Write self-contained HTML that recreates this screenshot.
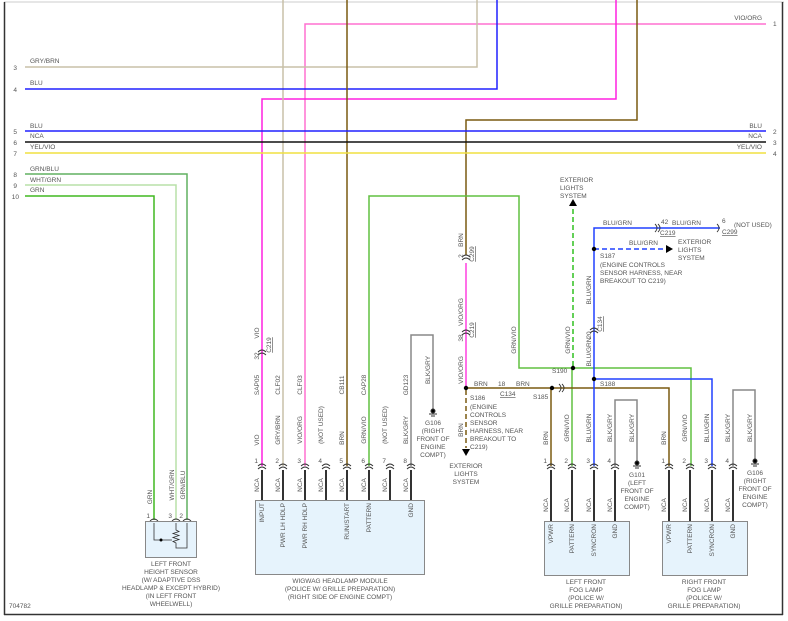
<!DOCTYPE html>
<html><head><meta charset="utf-8"><style>
html,body{margin:0;padding:0;background:#fff;}
svg{display:block;font-family:"Liberation Sans",sans-serif;}
text{font-size:6.5px;fill:#555;}
.c{text-anchor:middle;}
.e{text-anchor:end;}
</style></head><body>
<svg width="788" height="621" viewBox="0 0 788 621" xmlns="http://www.w3.org/2000/svg">
<line x1="4" y1="2" x2="784" y2="2" stroke="#ccc" stroke-width="1"/>
<line x1="4.5" y1="2" x2="4.5" y2="615" stroke="#333" stroke-width="1.5"/>
<line x1="4" y1="614.5" x2="783" y2="614.5" stroke="#333" stroke-width="1.5"/>
<line x1="782.5" y1="2" x2="782.5" y2="615" stroke="#333" stroke-width="1.5"/>

<g fill="none" stroke-width="1.5">
<polyline points="305,466 305,24 766,24" stroke="#ff70d0"/>
<polyline points="262,466 262,99 616,99 616,0" stroke="#ff20e0"/>
<polyline points="25,67 477,67 477,0" stroke="#c8c0a8"/>
<line x1="283" y1="0" x2="283" y2="466" stroke="#c8c0a8"/>
<polyline points="25,89 497,89 497,0" stroke="#2020ff"/>
<line x1="347" y1="0" x2="347" y2="466" stroke="#7a5a10"/>
<polyline points="466,255 466,120 637,120 637,0" stroke="#7a5a10"/>
<line x1="466" y1="263" x2="466" y2="388" stroke="#ff40e0"/>
<line x1="25" y1="131" x2="766" y2="131" stroke="#2020ff"/>
<line x1="25" y1="142" x2="766" y2="142" stroke="#111"/>
<line x1="25" y1="153" x2="766" y2="153" stroke="#f0e040"/>
<polyline points="25,174 187,174 187,520" stroke="#60b060"/>
<polyline points="25,185 176,185 176,520" stroke="#b8e0a8"/>
<polyline points="25,196 154,196 154,520" stroke="#40b820"/>
<polyline points="369,466 369,196 519,196 519,368 691,368 691,466" stroke="#60c040"/>
<line x1="572" y1="368" x2="572" y2="466" stroke="#60c040"/>
<line x1="573" y1="366" x2="573" y2="205" stroke="#30c020" stroke-dasharray="5,3"/>
<polyline points="466,388 669,388 669,466" stroke="#7a5a10"/>
<line x1="551" y1="388" x2="551" y2="466" stroke="#7a5a10"/>
<line x1="466" y1="390" x2="466" y2="448" stroke="#7a5a10" stroke-dasharray="5,3"/>
<polyline points="594,466 594,228 720,228" stroke="#2040ff"/>
<polyline points="594,379 712,379 712,466" stroke="#2040ff"/>
<line x1="594" y1="249" x2="666" y2="249" stroke="#2040ff" stroke-dasharray="5,3"/>
<polyline points="411,466 411,335 433,335 433,410" stroke="#888"/>
<polyline points="615,466 615,400 637,400 637,462" stroke="#888"/>
<polyline points="733,466 733,390 755,390 755,460" stroke="#888"/>
<g stroke="#333" stroke-width="2">
<line x1="262" y1="470" x2="262" y2="500"/><line x1="283" y1="470" x2="283" y2="500"/>
<line x1="305" y1="470" x2="305" y2="500"/><line x1="326" y1="470" x2="326" y2="500"/>
<line x1="347" y1="470" x2="347" y2="500"/><line x1="369" y1="470" x2="369" y2="500"/>
<line x1="390" y1="470" x2="390" y2="500"/><line x1="411" y1="470" x2="411" y2="500"/>
<line x1="551" y1="470" x2="551" y2="521"/><line x1="572" y1="470" x2="572" y2="521"/>
<line x1="594" y1="470" x2="594" y2="521"/><line x1="615" y1="470" x2="615" y2="521"/>
<line x1="669" y1="470" x2="669" y2="521"/><line x1="690" y1="470" x2="690" y2="521"/>
<line x1="712" y1="470" x2="712" y2="521"/><line x1="733" y1="470" x2="733" y2="521"/>
</g>
</g>
<g fill="none" stroke="#333" stroke-width="0.9">
<path d="M258,466 q4,-4 8,0 M258,469 q4,-4 8,0"/><path d="M279,466 q4,-4 8,0 M279,469 q4,-4 8,0"/>
<path d="M301,466 q4,-4 8,0 M301,469 q4,-4 8,0"/><path d="M322,466 q4,-4 8,0 M322,469 q4,-4 8,0"/>
<path d="M343,466 q4,-4 8,0 M343,469 q4,-4 8,0"/><path d="M365,466 q4,-4 8,0 M365,469 q4,-4 8,0"/>
<path d="M386,466 q4,-4 8,0 M386,469 q4,-4 8,0"/><path d="M407,466 q4,-4 8,0 M407,469 q4,-4 8,0"/>
<path d="M547,466 q4,-4 8,0 M547,469 q4,-4 8,0"/><path d="M568,466 q4,-4 8,0 M568,469 q4,-4 8,0"/>
<path d="M590,466 q4,-4 8,0 M590,469 q4,-4 8,0"/><path d="M611,466 q4,-4 8,0 M611,469 q4,-4 8,0"/>
<path d="M665,466 q4,-4 8,0 M665,469 q4,-4 8,0"/><path d="M686,466 q4,-4 8,0 M686,469 q4,-4 8,0"/>
<path d="M708,466 q4,-4 8,0 M708,469 q4,-4 8,0"/><path d="M729,466 q4,-4 8,0 M729,469 q4,-4 8,0"/>
<path d="M150,521 q4,-4 8,0 M172,521 q4,-4 8,0 M183,521 q4,-4 8,0"/>
<path d="M258,352 q4,-4 8,0 M258,355 q4,-4 8,0"/>
<path d="M462,332 q4,-4 8,0 M462,335 q4,-4 8,0"/>
<path d="M462,257 q4,-4 8,0 M462,260 q4,-4 8,0"/>
<path d="M590,330 q4,-4 8,0 M590,333 q4,-4 8,0"/>
<path d="M559,384 q4,4 0,8 M562,384 q4,4 0,8"/>
<path d="M655,224 q4,4 0,8 M658,224 q4,4 0,8"/>
<path d="M717,224 q4,4 0,8"/>
</g>
<g fill="#000">
<circle cx="466" cy="388" r="2.2"/><circle cx="552" cy="388" r="2.2"/>
<circle cx="573" cy="368" r="2.2"/><circle cx="594" cy="379" r="2.2"/>
<circle cx="594" cy="249" r="2.2"/>
<path d="M569,206 L577,206 L573,199 Z"/>
<path d="M462,449 L470,449 L466,456 Z"/>
<path d="M666,245 L666,253 L673,249 Z"/>
</g>
<g stroke="#333" stroke-width="1" fill="#000">
<circle cx="433" cy="411" r="2"/><line x1="429" y1="414" x2="437" y2="414"/><line x1="431" y1="416" x2="435" y2="416"/>
<circle cx="637" cy="463" r="2"/><line x1="633" y1="466" x2="641" y2="466"/><line x1="635" y1="468" x2="639" y2="468"/>
<circle cx="755" cy="461" r="2"/><line x1="751" y1="464" x2="759" y2="464"/><line x1="753" y1="466" x2="757" y2="466"/>
</g>
<g fill="#e6f3fc" stroke="#888" stroke-width="1">
<rect x="255.5" y="500.5" width="169" height="74"/>
<rect x="544.5" y="521.5" width="85" height="54"/>
<rect x="662.5" y="521.5" width="85" height="54"/>
<rect x="145.5" y="521.5" width="51" height="36"/>
</g>
<g fill="none" stroke="#333" stroke-width="0.8">
<polyline points="154,523 154,540 172,540"/>
<path d="M176,523 L176,530 l3,1.5 -6,2 6,2 -6,2 6,2 -6,2 3,1.5 L176,548 187,548 187,523"/>
</g>
<circle cx="161" cy="540" r="1.5" fill="#000"/>

<text x="17" y="70" class="e">3</text><text x="30" y="63">GRY/BRN</text>
<text x="17" y="92" class="e">4</text><text x="30" y="85">BLU</text>
<text x="17" y="134" class="e">5</text><text x="30" y="128">BLU</text>
<text x="17" y="145" class="e">6</text><text x="30" y="138">NCA</text>
<text x="17" y="156" class="e">7</text><text x="30" y="149">YEL/VIO</text>
<text x="17" y="177" class="e">8</text><text x="30" y="171">GRN/BLU</text>
<text x="17" y="188" class="e">9</text><text x="30" y="182">WHT/GRN</text>
<text x="19" y="199" class="e">10</text><text x="30" y="192">GRN</text>
<text x="762" y="20" class="e">VIO/ORG</text><text x="773" y="26">1</text>
<text x="762" y="128" class="e">BLU</text><text x="773" y="134">2</text>
<text x="762" y="138" class="e">NCA</text><text x="773" y="145">3</text>
<text x="762" y="149" class="e">YEL/VIO</text><text x="773" y="156">4</text>

<g>
<text transform="translate(152,497) rotate(-90)" class="c">GRN</text>
<text transform="translate(174,485) rotate(-90)" class="c">WHT/GRN</text>
<text transform="translate(185,485) rotate(-90)" class="c">GRN/BLU</text>
<text x="150" y="518" class="e">1</text><text x="172" y="518" class="e">3</text><text x="183" y="518" class="e">2</text>

<text transform="translate(259,440) rotate(-90)" class="c">VIO</text>
<text transform="translate(259,385) rotate(-90)" class="c">SAP05</text>
<text transform="translate(259,356) rotate(-90)" class="c">32</text>
<text transform="translate(259,333) rotate(-90)" class="c">VIO</text>
<text transform="translate(271,345) rotate(-90)" class="c" text-decoration="underline">C219</text>
<text transform="translate(280,430) rotate(-90)" class="c">GRY/BRN</text>
<text transform="translate(280,385) rotate(-90)" class="c">CLF02</text>
<text transform="translate(302,430) rotate(-90)" class="c">VIO/ORG</text>
<text transform="translate(302,385) rotate(-90)" class="c">CLF03</text>
<text transform="translate(323,425) rotate(-90)" class="c">(NOT USED)</text>
<text transform="translate(344,438) rotate(-90)" class="c">BRN</text>
<text transform="translate(344,385) rotate(-90)" class="c">CB111</text>
<text transform="translate(366,430) rotate(-90)" class="c">GRN/VIO</text>
<text transform="translate(366,385) rotate(-90)" class="c">CAP28</text>
<text transform="translate(387,425) rotate(-90)" class="c">(NOT USED)</text>
<text transform="translate(408,430) rotate(-90)" class="c">BLK/GRY</text>
<text transform="translate(408,385) rotate(-90)" class="c">GD123</text>
<text transform="translate(430,370) rotate(-90)" class="c">BLK/GRY</text>

<text x="258" y="463" class="e">1</text><text x="279" y="463" class="e">2</text><text x="301" y="463" class="e">3</text><text x="322" y="463" class="e">4</text>
<text x="343" y="463" class="e">5</text><text x="365" y="463" class="e">6</text><text x="386" y="463" class="e">7</text><text x="407" y="463" class="e">8</text>
<text transform="translate(259,485) rotate(-90)" class="c">NCA</text><text transform="translate(280,485) rotate(-90)" class="c">NCA</text>
<text transform="translate(302,485) rotate(-90)" class="c">NCA</text><text transform="translate(323,485) rotate(-90)" class="c">NCA</text>
<text transform="translate(344,485) rotate(-90)" class="c">NCA</text><text transform="translate(366,485) rotate(-90)" class="c">NCA</text>
<text transform="translate(387,485) rotate(-90)" class="c">NCA</text><text transform="translate(408,485) rotate(-90)" class="c">NCA</text>

<text transform="translate(264,503) rotate(-90)" class="e">INPUT</text>
<text transform="translate(285,503) rotate(-90)" class="e">PWR LH HDLP</text>
<text transform="translate(307,503) rotate(-90)" class="e">PWR RH HDLP</text>
<text transform="translate(349,503) rotate(-90)" class="e">RUN/START</text>
<text transform="translate(371,503) rotate(-90)" class="e">PATTERN</text>
<text transform="translate(413,503) rotate(-90)" class="e">GND</text>

<text transform="translate(463,256) rotate(-90)" class="c">2</text>
<text transform="translate(463,240) rotate(-90)" class="c">BRN</text>
<text transform="translate(474,254) rotate(-90)" class="c" text-decoration="underline">C299</text>
<text transform="translate(463,338) rotate(-90)" class="c">38</text>
<text transform="translate(463,312) rotate(-90)" class="c">VIO/ORG</text>
<text transform="translate(474,330) rotate(-90)" class="c" text-decoration="underline">C219</text>
<text transform="translate(463,370) rotate(-90)" class="c">VIO/ORG</text>
<text transform="translate(463,430) rotate(-90)" class="c">BRN</text>
<text transform="translate(516,340) rotate(-90)" class="c">GRN/VIO</text>
<text transform="translate(570,340) rotate(-90)" class="c">GRN/VIO</text>
<text transform="translate(591,290) rotate(-90)" class="c">BLU/GRN</text>
<text transform="translate(591,352) rotate(-90)" class="c">BLU/GRN</text>
<text transform="translate(591,335) rotate(-90)" class="c">20</text>
<text transform="translate(602,324) rotate(-90)" class="c" text-decoration="underline">C134</text>

<text transform="translate(548,438) rotate(-90)" class="c">BRN</text>
<text transform="translate(569,428) rotate(-90)" class="c">GRN/VIO</text>
<text transform="translate(591,428) rotate(-90)" class="c">BLU/GRN</text>
<text transform="translate(612,428) rotate(-90)" class="c">BLK/GRY</text>
<text transform="translate(634,428) rotate(-90)" class="c">BLK/GRY</text>
<text transform="translate(666,438) rotate(-90)" class="c">BRN</text>
<text transform="translate(687,428) rotate(-90)" class="c">GRN/VIO</text>
<text transform="translate(709,428) rotate(-90)" class="c">BLU/GRN</text>
<text transform="translate(730,428) rotate(-90)" class="c">BLK/GRY</text>
<text transform="translate(752,428) rotate(-90)" class="c">BLK/GRY</text>
<text x="547" y="463" class="e">1</text><text x="568" y="463" class="e">2</text><text x="590" y="463" class="e">3</text><text x="611" y="463" class="e">4</text>
<text x="665" y="463" class="e">1</text><text x="686" y="463" class="e">2</text><text x="708" y="463" class="e">3</text><text x="729" y="463" class="e">4</text>
<text transform="translate(548,505) rotate(-90)" class="c">NCA</text><text transform="translate(569,505) rotate(-90)" class="c">NCA</text>
<text transform="translate(591,505) rotate(-90)" class="c">NCA</text><text transform="translate(612,505) rotate(-90)" class="c">NCA</text>
<text transform="translate(666,505) rotate(-90)" class="c">NCA</text><text transform="translate(687,505) rotate(-90)" class="c">NCA</text>
<text transform="translate(709,505) rotate(-90)" class="c">NCA</text><text transform="translate(730,505) rotate(-90)" class="c">NCA</text>
<text transform="translate(553,524) rotate(-90)" class="e">VPWR</text>
<text transform="translate(574,524) rotate(-90)" class="e">PATTERN</text>
<text transform="translate(596,524) rotate(-90)" class="e">SYNCRON</text>
<text transform="translate(617,524) rotate(-90)" class="e">GND</text>
<text transform="translate(671,524) rotate(-90)" class="e">VPWR</text>
<text transform="translate(692,524) rotate(-90)" class="e">PATTERN</text>
<text transform="translate(714,524) rotate(-90)" class="e">SYNCRON</text>
<text transform="translate(735,524) rotate(-90)" class="e">GND</text>
</g>

<text x="474" y="386">BRN</text><text x="498" y="386">18</text><text x="516" y="386">BRN</text>
<text x="500" y="396" text-decoration="underline">C134</text>
<text x="533" y="399">S185</text>
<text x="470" y="400">S186</text>
<text x="470" y="409">(ENGINE</text><text x="470" y="417">CONTROLS</text><text x="470" y="425">SENSOR</text>
<text x="470" y="433">HARNESS, NEAR</text><text x="470" y="441">BREAKOUT TO</text><text x="470" y="449">C219)</text>
<text x="466" y="468" class="c">EXTERIOR</text><text x="466" y="476" class="c">LIGHTS</text><text x="466" y="484" class="c">SYSTEM</text>
<text x="560" y="182">EXTERIOR</text><text x="560" y="190">LIGHTS</text><text x="560" y="198">SYSTEM</text>
<text x="552" y="373">S190</text>
<text x="600" y="386">S188</text>
<text x="603" y="225">BLU/GRN</text><text x="661" y="224">42</text><text x="672" y="225">BLU/GRN</text>
<text x="660" y="235" text-decoration="underline">C219</text>
<text x="722" y="223">6</text><text x="734" y="227">(NOT USED)</text>
<text x="722" y="234" text-decoration="underline">C299</text>
<text x="629" y="245">BLU/GRN</text>
<text x="678" y="244">EXTERIOR</text><text x="678" y="252">LIGHTS</text><text x="678" y="260">SYSTEM</text>
<text x="600" y="258">S187</text>
<text x="600" y="267">(ENGINE CONTROLS</text><text x="600" y="275">SENSOR HARNESS, NEAR</text><text x="600" y="283">BREAKOUT TO C219)</text>
<text x="433" y="425" class="c">G106</text><text x="433" y="433" class="c">(RIGHT</text><text x="433" y="441" class="c">FRONT OF</text><text x="433" y="449" class="c">ENGINE</text><text x="433" y="457" class="c">COMPT)</text>
<text x="637" y="477" class="c">G101</text><text x="637" y="485" class="c">(LEFT</text><text x="637" y="493" class="c">FRONT OF</text><text x="637" y="501" class="c">ENGINE</text><text x="637" y="509" class="c">COMPT)</text>
<text x="755" y="475" class="c">G106</text><text x="755" y="483" class="c">(RIGHT</text><text x="755" y="491" class="c">FRONT OF</text><text x="755" y="499" class="c">ENGINE</text><text x="755" y="507" class="c">COMPT)</text>

<text x="171" y="566" class="c">LEFT FRONT</text><text x="171" y="574" class="c">HEIGHT SENSOR</text>
<text x="171" y="582" class="c">(W/ ADAPTIVE DSS</text><text x="171" y="590" class="c">HEADLAMP &amp; EXCEPT HYBRID)</text>
<text x="171" y="598" class="c">(IN LEFT FRONT</text><text x="171" y="606" class="c">WHEELWELL)</text>
<text x="340" y="583" class="c">WIGWAG HEADLAMP MODULE</text>
<text x="340" y="591" class="c">(POLICE W/ GRILLE PREPARATION)</text>
<text x="340" y="599" class="c">(RIGHT SIDE OF ENGINE COMPT)</text>
<text x="586" y="584" class="c">LEFT FRONT</text><text x="586" y="592" class="c">FOG LAMP</text>
<text x="586" y="600" class="c">(POLICE W/</text><text x="586" y="608" class="c">GRILLE PREPARATION)</text>
<text x="704" y="584" class="c">RIGHT FRONT</text><text x="704" y="592" class="c">FOG LAMP</text>
<text x="704" y="600" class="c">(POLICE W/</text><text x="704" y="608" class="c">GRILLE PREPARATION)</text>
<text x="9" y="608">704782</text>
</svg>
</body></html>
